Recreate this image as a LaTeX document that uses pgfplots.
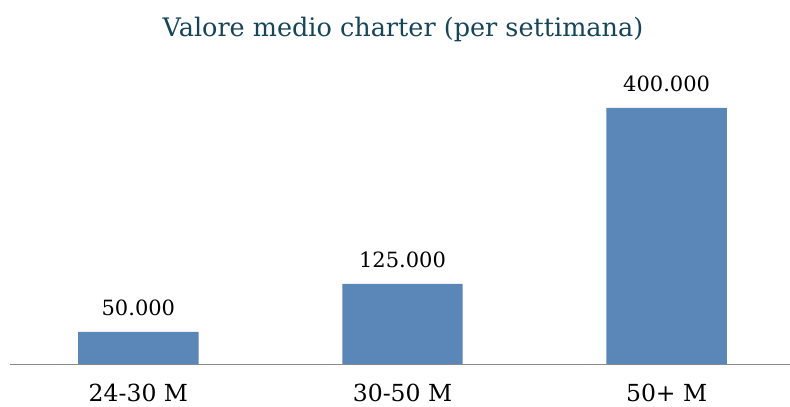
\documentclass[border=0pt]{standalone}
\usepackage{pgfplots}
\pgfplotsset{compat=1.18}
\usepackage{fontspec}
\setmainfont{DejaVu Serif}
\definecolor{barblue}{HTML}{5B86B8}
\definecolor{titleteal}{HTML}{164559}
\definecolor{axisgray}{HTML}{8C8C8C}
\begin{document}
\begin{tikzpicture}[x=1pt,y=1pt]
\path[use as bounding box] (0,0) rectangle (790,407);
\begin{axis}[
  at={(10pt,43pt)}, anchor=south west,
  scale only axis,
  width=780pt, height=281.6pt,
  xmin=-0.486, xmax=2.467,
  ymin=0, ymax=440000,
  axis x line*=bottom,
  axis y line=none,
  x axis line style={draw=axisgray, line width=1pt, -},
  xtick={0,1,2},
  xticklabels={24-30 M,30-50 M,50+ M},
  major tick length=0pt,
  /pgf/number format/assume math mode=true,
  xticklabel style={font=\fontsize{23.5}{28}\selectfont, text=black, yshift=-17pt},
  ybar, bar width=0.456,
  clip=false,
  nodes near coords,
  point meta=explicit symbolic,
  nodes near coords style={font=\fontsize{21}{25}\selectfont, text=black, yshift=13pt},
]
\addplot[fill=barblue, draw=none] coordinates {(0,50000)[50.000] (1,125000)[125.000] (2,400000)[400.000]};
\end{axis}
\node[text=titleteal, font=\fontsize{25.5}{30}\selectfont] at (403,378) {Valore medio charter (per settimana)};
\end{tikzpicture}
\end{document}
